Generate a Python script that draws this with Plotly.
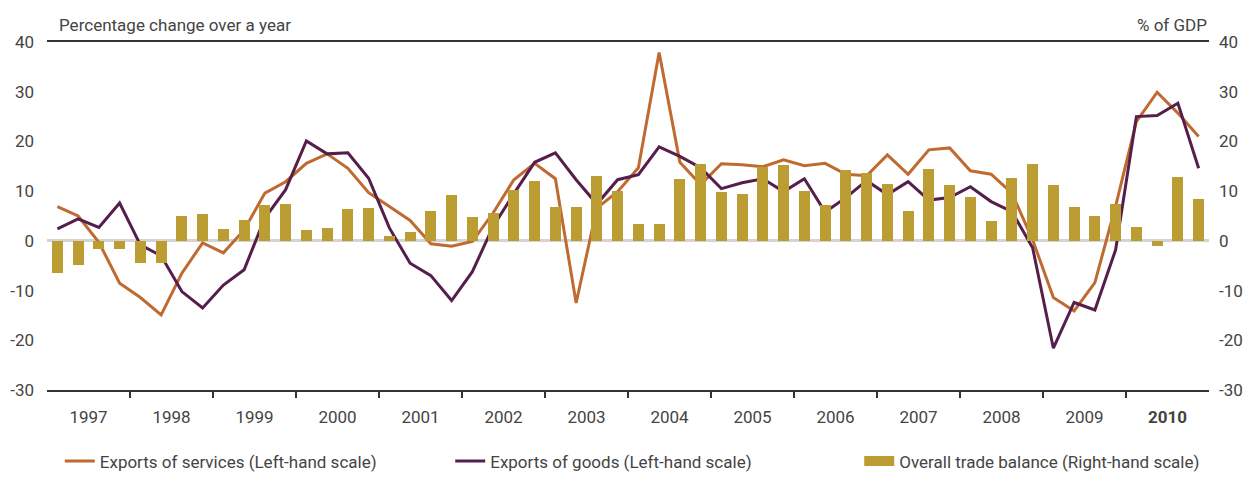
import plotly.graph_objects as go

years = list(range(1997, 2011))
year_labels = [str(y) for y in years[:-1]] + ["<b>2010</b>"]
y_ticks = [-30, -20, -10, 0, 10, 20, 30, 40]
y_tick_labels = ["-30", "-20", "-10", "0", "10", "20", "30", "40"]

services = [6.9, 5.0, -0.3, -8.5,
            -11.4, -14.9, -6.5, -0.4,
            -2.4, 2.2, 9.6, 11.9,
            15.6, 17.5, 14.6, 9.7,
            6.9, 4.1, -0.6, -1.1,
            -0.1, 5.6, 12.3, 15.6,
            12.5, -12.5, 6.6, 9.9,
            14.7, 37.9, 15.8, 11.3,
            15.5, 15.3, 14.9, 16.3,
            15.1, 15.6, 13.4, 13.1,
            17.3, 13.4, 18.3, 18.7,
            14.1, 13.4, 9.6, 0.2,
            -11.4, -14.1, -8.4, 7.0,
            24.0, 29.9, 25.7, 21.0]

goods = [2.4, 4.4, 2.7, 7.6,
         -0.8, -3.0, -10.2, -13.5,
         -8.9, -5.8, 4.6, 10.3,
         20.1, 17.5, 17.7, 12.6,
         2.6, -4.5, -7.0, -12.0,
         -6.2, 2.9, 9.5, 15.8,
         17.7, 12.3, 7.4, 12.3,
         13.3, 18.9, 17.0, 14.7,
         10.5, 11.7, 12.5, 9.9,
         12.5, 5.8, 8.7, 12.1,
         9.3, 11.9, 8.2, 8.7,
         10.9, 7.9, 5.9, -1.4,
         -21.6, -12.4, -13.9, -1.8,
         25.0, 25.2, 27.7, 14.6]

balance = [-6.4, -4.8, -1.6, -1.6,
           -4.4, -4.4, 5.0, 5.4,
           2.4, 4.1, 7.2, 7.5,
           2.1, 2.6, 6.4, 6.6,
           1.0, 1.8, 6.0, 9.3,
           4.8, 5.6, 10.3, 12.1,
           6.8, 6.8, 13.1, 10.1,
           3.4, 3.4, 12.5, 15.5,
           9.9, 9.5, 14.9, 15.3,
           10.1, 7.2, 14.3, 13.7,
           11.5, 6.0, 14.4, 11.3,
           8.8, 4.0, 12.6, 15.5,
           11.3, 6.8, 5.0, 7.4,
           2.8, -1.0, 12.9, 8.4]

# quarter positions: mid-point of each quarter
quarters = [y + (q + 0.5) / 4 for y in years for q in range(4)]
year_centers = [y + 0.5 for y in years]
year_bounds = [y for y in years[1:]]

ORANGE = "#BF6A30"
PURPLE = "#561E4A"
GOLD = "#BC9D34"
TXT = "#444444"
FONT = "Roboto"
FS = 17

fig = go.Figure()
fig.add_trace(go.Bar(x=quarters, y=balance, yaxis="y2", marker_color=GOLD,
                     marker_line_width=0, width=0.13, showlegend=False,
                     name="Overall trade balance (Right-hand scale)"))
fig.add_trace(go.Scatter(x=quarters, y=services, mode="lines",
                         line=dict(color=ORANGE, width=3),
                         name="Exports of services (Left-hand scale)", legend="legend"))
fig.add_trace(go.Scatter(x=quarters, y=goods, mode="lines",
                         line=dict(color=PURPLE, width=3),
                         name="Exports of goods (Left-hand scale)", legend="legend2"))
# legend swatch for the bar series
fig.add_trace(go.Scatter(x=[None], y=[None], mode="lines",
                         line=dict(color=GOLD, width=14),
                         name="Overall trade balance (Right-hand scale)", legend="legend3"))

leg = dict(orientation="h", y=-0.205, xanchor="left", yanchor="middle",
           font=dict(size=FS, color=TXT), bgcolor="rgba(0,0,0,0)")

# the page body adds an 8px margin, so the figure is sized to fit the window
fig.update_layout(
    width=1243, height=471,
    margin=dict(l=39, r=42, t=34, b=89, autoexpand=False),
    paper_bgcolor="white", plot_bgcolor="white",
    font=dict(family=FONT, size=FS, color=TXT),
    bargap=0,
    xaxis=dict(range=[1997, 2011], showgrid=False, zeroline=False, automargin=False,
               showline=True, linecolor="#333333", linewidth=2, mirror=True,
               tickmode="array", tickvals=year_centers, ticktext=year_labels,
               ticks="", ticklabelstandoff=11,
               tickfont=dict(size=FS, color=TXT),
               minor=dict(tickmode="array", tickvals=year_bounds, ticks="outside",
                          ticklen=6, tickwidth=2, tickcolor="#333333", showgrid=False)),
    yaxis=dict(range=[-30, 40], tickmode="array", tickvals=y_ticks, ticktext=y_tick_labels,
               showgrid=False, automargin=False,
               zeroline=True, zerolinecolor="#D4D4D4", zerolinewidth=2.5,
               showline=False, ticks="", ticklabelstandoff=12,
               tickfont=dict(size=FS, color=TXT)),
    yaxis2=dict(range=[-30, 40], tickmode="array", tickvals=y_ticks, ticktext=y_tick_labels,
                overlaying="y", side="right",
                showgrid=False, zeroline=False, showline=False, ticks="", automargin=False,
                ticklabelstandoff=9, tickfont=dict(size=FS, color=TXT)),
    legend=dict(leg, x=0.011),
    legend2=dict(leg, x=0.347),
    legend3=dict(leg, x=0.699),
    annotations=[
        dict(text="Percentage change over a year", xref="paper", yref="paper",
             x=0.0086, y=1.049, xanchor="left", yanchor="middle", showarrow=False,
             font=dict(size=FS, color=TXT)),
        dict(text="% of GDP", xref="paper", yref="paper",
             x=1.0, y=1.049, xanchor="right", yanchor="middle", showarrow=False,
             font=dict(size=FS, color=TXT)),
    ],
)

fig.write_html("out.html")
